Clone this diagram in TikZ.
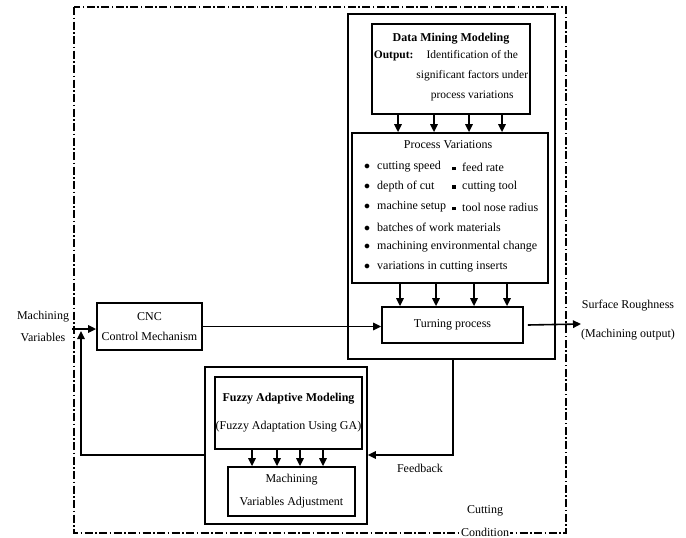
\documentclass[tikz,border=0pt]{standalone}
\usepackage{fontspec}
\setmainfont{Liberation Serif}
\usetikzlibrary{arrows.meta}

\begin{document}
\begin{tikzpicture}[
        x=1pt, y=-1pt,
        box/.style={draw, line width=1.8pt, inner sep=0pt, align=center,
          font=\fontsize{12}{20}\selectfont},
        frame/.style={draw, line width=1.5pt, inner sep=0pt},
        arr/.style={line width=1.6pt, -{Triangle[length=8pt,width=7.5pt]}},
        lbl/.style={align=center, inner sep=0pt, font=\fontsize{12}{20}\selectfont},
        item/.style={anchor=west, inner sep=0pt, font=\fontsize{12}{14}\selectfont},
        dashdot/.style={line width=1.3pt, dash pattern=on 8pt off 2.5pt on 1.5pt off 2.5pt}]

      \useasboundingbox (0,0) rectangle (686,538);

      % cutting condition boundary
      \draw[dashdot] (74,7) rectangle (566,533);

      % data mining side
      \node[frame, minimum width=207pt, minimum height=345pt] (big) at (451.5,186.5) {};
      \node[box, minimum width=158pt, minimum height=90pt] (dm) at (451,69)
        {\textbf{Data Mining Modeling}\\
         \fontsize{11.5}{20}\selectfont
         \begin{tabular}{@{}l@{\ }c@{}}
           \textbf{Output:} & Identification of the\\
           & significant factors under\\
           & process variations
         \end{tabular}};
      \node[box, minimum width=196pt, minimum height=150pt] (pv) at (450,208) {};
      \node[lbl] (pvt) at (448,145) {Process Variations};
      \foreach \t [count=\i] in {cutting speed, depth of cut, machine setup,
          batches of work materials, machining environmental change,
          variations in cutting inserts}
        \node[item] (pvl\i) at (364,147+20*\i) {\makebox[13pt][l]{$\bullet$}\t};
      \foreach \t [count=\i] in {feed rate, cutting tool, tool nose radius}
        \node[item] (pvr\i) at (452,147+20*\i) {\makebox[10pt][l]{\rule[1pt]{3.5pt}{3.5pt}}\t};
      \node[box, minimum width=141pt, minimum height=36pt] (turn) at (452.5,325) {Turning process};

      % controller
      \node[box, minimum width=105pt, minimum height=47pt] (cnc) at (149.5,326.5)
        {CNC\\Control Mechanism};

      % fuzzy side
      \node[frame, minimum width=162pt, minimum height=157pt] (fzo) at (286,445.5) {};
      \node[box, minimum width=147pt, minimum height=72pt] (fzm) at (288.5,413)
        {\textbf{Fuzzy Adaptive Modeling}\\[8pt](Fuzzy Adaptation Using GA)};
      \node[box, minimum width=127pt, minimum height=49pt] (adj) at (291.5,491.5)
        {Machining\\[3pt]Variables Adjustment};

      % labels
      \node[lbl] (mv) at (43,326) {Machining\\[2pt]Variables};
      \node[lbl] (sr) at (628,320) {Surface Roughness\\[9pt](Machining output)};
      \node[lbl] (fbl) at (420,468) {Feedback};
      \node[lbl, fill=white, inner sep=1pt] (cc) at (485,521) {Cutting\\[3pt]Condition};

      \coordinate (fb) at (453,455);
      \coordinate (mvin) at (72,329);
      \coordinate (mvup) at (81,331);
      \coordinate (out) at (581,324);

      \foreach \x in {398,434,469,502} {
        \coordinate (c) at (\x,0);
        \draw[arr] (c |- dm.south) -- (c |- pv.north);
      }
      \foreach \x in {400,436,474,507} {
        \coordinate (c) at (\x,0);
        \draw[arr] (c |- pv.south) -- (c |- turn.north);
      }
      \foreach \x in {252,277,300,323} {
        \coordinate (c) at (\x,0);
        \draw[arr] (c |- fzm.south) -- (c |- adj.north);
      }

      \draw[arr] (mvin) -- (mvin -| cnc.west);
      \draw[arr] (cnc.east) -- (cnc.east -| turn.west);
      \draw[arr] ([xshift=4pt]turn.east) -- (out);
      \draw[arr] (fb |- big.south) -- (fb) -- (fb -| fzo.east);
      \draw[arr] (fb -| fzo.west) -| (mvup);

    \end{tikzpicture}
\end{document}
